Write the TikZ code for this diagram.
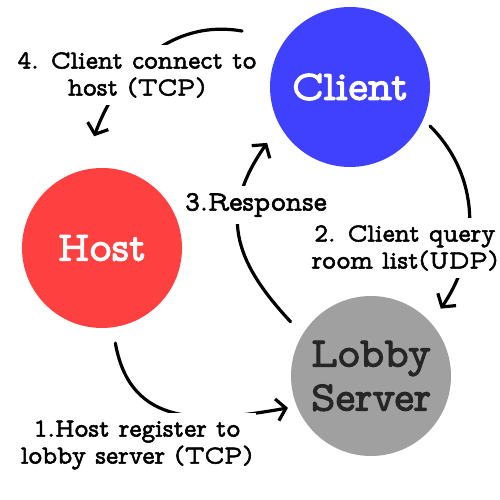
\documentclass[tikz,border=0pt]{standalone}
\usepackage{fontspec}
\newfontfamily\tw[FakeBold=2]{Latin Modern Mono Prop}
\newfontfamily\twb[FakeBold=2.5]{Latin Modern Mono Prop}
\usetikzlibrary{arrows.meta,calc}
\definecolor{clientblue}{RGB}{64,64,255}
\definecolor{hostred}{RGB}{255,64,64}
\definecolor{lobbygray}{RGB}{160,160,160}
\begin{document}
\begin{tikzpicture}[x=1pt,y=1pt,
  bubble/.style={circle,minimum size=160pt,inner sep=0pt,align=center,
    font=\twb\fontsize{42}{44}\selectfont},
  lbl/.style={fill=white,inner xsep=3pt,inner ysep=7pt,align=center,
    font=\tw\fontsize{26}{27}\selectfont},
  arr/.style={line width=3.2pt,line cap=round,
    -{Straight Barb[length=9pt,width=22pt,line width=3.2pt]}}]
\useasboundingbox (0,0) rectangle (500,500);
\node[bubble,fill=clientblue,text=white] (client) at (350,413) {Client};
\node[bubble,fill=hostred,text=white] (host) at (102,252) {Host};
\node[bubble,fill=lobbygray,text=black!85] (lobby) at (371,124) {Lobby\\Server};
\draw[arr] ($(host.center)+(-82:96)$) to[out=-80,in=190,looseness=1.2] ($(lobby.center)+(201:89)$);
\draw[arr] ($(client.center)+(-26:89)$) to[out=-45,in=56] ($(lobby.center)+(44:97)$);
\draw[arr] ($(lobby.center)+(146:97)$) to[out=133,in=235,looseness=1.2] ($(client.center)+(214:100)$);
\draw[arr] ($(client.center)+(152.6:121.6)$) to[out=170,in=70] ($(host.center)+(94:112)$);
\node[lbl] (l4) at (137,425) {4. Client connect to\\host (TCP)};
\node[lbl] (l2) at (405,252) {2. Client query\\room list(UDP)};
\node[lbl,font=\tw\fontsize{28}{28}\selectfont] (l3) at (256,295) {3.Response};
\node[lbl] (l1) at (137,55) {1.Host register to\\lobby server (TCP)};
\end{tikzpicture}
\end{document}
